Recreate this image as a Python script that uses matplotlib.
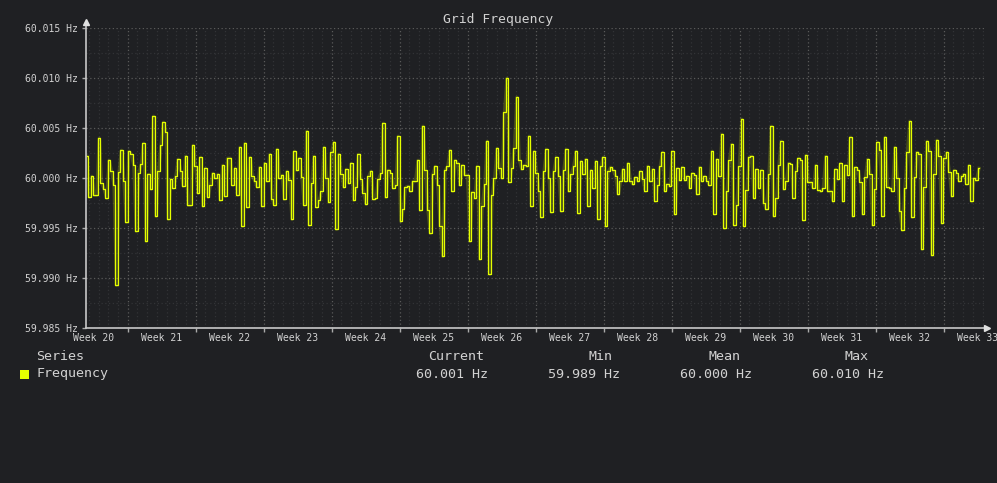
import numpy as np
import matplotlib
matplotlib.use("Agg")
import matplotlib.pyplot as plt
from matplotlib.patches import Rectangle
from matplotlib.ticker import FuncFormatter, MultipleLocator

# deviation from 60 Hz, in units of 0.1 mHz (roughly 6 h samples)
dev_a = [22, -19, 2, -17, -17, 40, -5, -11, -20, 18, 7, -7, -107, 6, 28, -3, -44, 27, 24,
         13, -53, 5, 14, 35, -63, 4, -11, 62, -38, 7, 33, 56, 46, -41, -1, -10, 2, 19,
         7, -8, 22, -27, -27, 33, 12, -15, 21, -28, 10, -19, -7, 5, 0, 4, -22, 13, -18,
         20, 20, -7]
dev_b = [10, -17, 31, -48, 35, -29, 21, 2, -3, -9, 11, -28, 15, -3, 24, -21, -27, 29, 0,
         3, -21, 7, -2, -41, 27, 8, 20, 1, -27, 47, -47, -5, 22, -29, -22, -13, 31, 0,
         -24, 26, 36, -51, 24, 4, -9, 9, -5, 15, -22, -9, 24, -1, -15, -26, 2, 7, -21,
         -20, -1]
dev_c = [5, 55, -19, 8, 5, -10, -7, 42, -43, -31, -9, -8, -13, -3, -3, 18, -32, 52, 8,
         -32, -55, 4, 12, -7, -48, -78, 8, 12, 28, -13, 18, 15, -7, 13, 3, 3, -63, -14,
         -20, 12, -81, -28, -6, 37, -96, -17, 0, 30, 10, 0, 66, 100, -4, 10, 30, 81, 18,
         9, 13, 12, 42]
dev_d = [-28, 27, 5, -13, -39, 7, 29, 0, -34, 7, 21, 2, -33, 8, 29, -13, 4, 12, 27, -35,
         17, 4, 19, -28, 8, -10, 17, -41, 12, 21, -48, 7, 11, 8, 2, -16, -3, 9, -3, 15,
         -3, -6, 1, -3, 7, -1, -13, 12, -3, 9, -23, -7, 12, 26, -13, -6, -8, 27, -36, 10]
dev_e = [-2, 11, -2, 2, -10, 5, 3, -16, 11, -3, 2, -3, -7, 27, -36, 19, 2, 44, -50, -13,
         18, 34, -47, -27, 12, 59, -48, -12, 21, 22, -20, 9, -10, 8, -25, -31, 4, 52,
         -38, -20, 13, 37, -11, -3, 15, 14, -20, 7, 20, 18, -42, 23, -4, -4, -10, 13,
         -12, -13, -10, 22, -13, -13]
dev_f = [-23, 9, -1, 15, -23, 13, 3, 41, -38, 11, 8, -4, -36, 1, 19, 4, -47, -11, 36, 28,
         -38, 41, -9, -10, -13, 31, 0, -33, -52, -10, 26, 57, -39, 1, 26, 24, -71, -9,
         37, 27, -77, 4, 38, 22, -45, 20, 26, 6, -18, 8, 5, -3, 2, 4, -6, 13, -23, 0,
         -2, 10]

week_first = 20
week_last = 33
t_start = 20.40   # in weeks
t_end = 33.52

freq = 60.0 + np.array(dev_a + dev_b + dev_c + dev_d + dev_e + dev_f) * 1e-4
t = np.linspace(t_start, t_end, len(freq))

bg = "#1f2023"
fg = "#d2d2d2"
yellow = "#e5ff00"

plt.rcParams["font.family"] = ["DejaVu Sans Mono"]

fig = plt.figure(figsize=(9.97, 4.83), dpi=100, facecolor=bg)
ax = fig.add_axes([86/997, 1 - 328.3/483, (984 - 86)/997, 300/483])
ax.set_facecolor(bg)

# soft glow underneath, then the thin step line
ax.plot(t, freq, color=yellow, lw=2.4, alpha=0.2)
ax.plot(t, freq, color=yellow, lw=0.9, drawstyle="steps-mid")

ax.set_xlim(20.387, 33.593)
ax.set_ylim(59.985, 60.015)

# grid
ax.xaxis.set_major_locator(MultipleLocator(1))
ax.xaxis.set_minor_locator(MultipleLocator(1/7))
ax.yaxis.set_major_locator(MultipleLocator(0.005))
ax.yaxis.set_minor_locator(MultipleLocator(0.0025))
ax.grid(which="major", color="#5a5a5a", lw=0.9, ls=(0, (1, 2)))
ax.grid(which="minor", color="#323336", lw=0.9, ls=(0, (1, 2)))
ax.set_axisbelow(True)

ax.yaxis.set_major_formatter(FuncFormatter(lambda v, p: f"{v:.3f} Hz"))
ax.xaxis.set_major_formatter(FuncFormatter(lambda v, p: ""))
ax.tick_params(axis="y", which="major", length=3, width=1, color="#aaaaaa",
               labelcolor=fg, labelsize=7, pad=2.8)
ax.tick_params(axis="x", which="major", length=3, width=1, color="#aaaaaa")
ax.tick_params(which="minor", length=0)

for s in ax.spines.values():
    s.set_visible(False)

# axis lines with arrow heads
ax.plot([0, 0], [0, 1.02], color="#c8c8c8", lw=1.2, transform=ax.transAxes, clip_on=False)
ax.plot([0], [1.02], marker="^", ms=5, color="#e0e0e0", transform=ax.transAxes, clip_on=False)
ax.plot([0, 1.003], [0, 0], color="#c8c8c8", lw=1.2, transform=ax.transAxes, clip_on=False)
ax.plot([1.003], [0], marker=">", ms=5, color="#e0e0e0", transform=ax.transAxes, clip_on=False)

# week labels centred in each week
for w in range(week_first, week_last + 1):
    ax.text(w + 0.5, -0.031, f"Week {w}", transform=ax.get_xaxis_transform(),
            ha="center", va="center", fontsize=7, color=fg, clip_on=False)

fig.text(0.4995, 1 - 19/483, "Grid Frequency", ha="center", va="center",
         fontsize=9.4, color=fg)

# legend table
stats = [("Current", freq[-1], 455.8, 451.7),
         ("Min", freq.min(), 600, 584.2),
         ("Mean", freq.mean(), 724, 716),
         ("Max", freq.max(), 856, 848)]
row1 = 1 - 356/483
row2 = 1 - 374/483
fig.text(36/997, row1, "Series", ha="left", va="center", fontsize=9.6, color=fg)
fig.text(36/997, row2, "Frequency", ha="left", va="center", fontsize=9.6, color=fg)
fig.patches.append(Rectangle((20/997, 1 - 379/483), 9/997, 9/483, transform=fig.transFigure,
                             facecolor=yellow, edgecolor="none"))
for name, val, xh, xv in stats:
    fig.text(xh/997, row1, name, ha="center", va="center", fontsize=9.6, color=fg)
    fig.text(xv/997, row2, f"{val:.3f} Hz", ha="center", va="center", fontsize=9.6, color=fg)

fig.savefig("out.png", dpi=100, facecolor=bg)
